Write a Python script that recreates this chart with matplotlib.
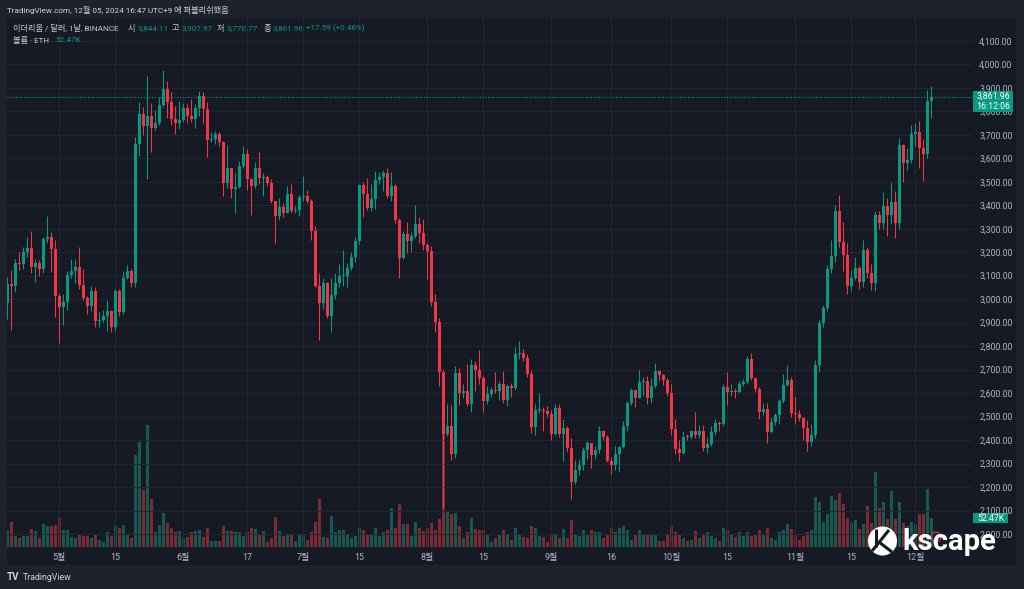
import matplotlib
matplotlib.use('Agg')
import matplotlib.pyplot as plt
from matplotlib.patches import Rectangle, Circle
from matplotlib.lines import Line2D
from matplotlib.ticker import FuncFormatter
from matplotlib.transforms import blended_transform_factory
import pandas as pd

plt.rcParams['font.family'] = ['Roboto', 'Noto Sans CJK KR', 'DejaVu Sans']

# ETH / USD daily, Binance, 2024-04-18 .. 2024-12-05
dates = pd.date_range('2024-04-18', '2024-12-05', freq='D')
first_open = 2985

closes = [
    3065, 3058, 3155, 3148, 3200, 3218, 3136, 3155, 3130, 3255,
    3263, 3212, 3012, 2968, 2988, 3102, 3118, 3136, 3062, 3005,
    2973, 3035, 2909, 2912, 2929, 2950, 2880, 3036, 2945, 3092,
    3122, 3070, 3662, 3788, 3738, 3780, 3728, 3750, 3826, 3893,
    3840, 3765, 3748, 3762, 3815, 3780, 3765, 3812, 3865, 3810,
    3678, 3682, 3705, 3668, 3495, 3558, 3468, 3478, 3567, 3620,
    3510, 3482, 3560, 3517, 3521, 3495, 3418, 3352, 3393, 3367,
    3447, 3375, 3378, 3436, 3440, 3420, 3290, 3058, 2982, 3068,
    2930, 3018, 3068, 3100, 3100, 3134, 3178, 3248, 3486, 3446,
    3387, 3425, 3507, 3518, 3537, 3440, 3482, 3337, 3175, 3277,
    3248, 3270, 3320, 3280, 3232, 3203, 2988, 2902, 2690, 2425,
    2462, 2340, 2685, 2600, 2610, 2555, 2720, 2700, 2663, 2567,
    2595, 2614, 2610, 2638, 2572, 2630, 2622, 2765, 2770, 2748,
    2680, 2455, 2528, 2528, 2525, 2513, 2425, 2536, 2425, 2450,
    2365, 2224, 2273, 2295, 2358, 2387, 2337, 2360, 2439, 2415,
    2313, 2295, 2340, 2372, 2460, 2557, 2614, 2581, 2649, 2653,
    2580, 2632, 2695, 2677, 2656, 2600, 2446, 2361, 2347, 2415,
    2412, 2439, 2420, 2440, 2365, 2382, 2436, 2475, 2470, 2628,
    2607, 2610, 2603, 2638, 2649, 2744, 2663, 2616, 2521, 2531,
    2436, 2479, 2507, 2567, 2635, 2656, 2514, 2512, 2493, 2453,
    2394, 2422, 2720, 2897, 2964, 3127, 3184, 3375, 3245, 3188,
    3056, 3089, 3131, 3075, 3209, 3110, 3068, 3358, 3326, 3397,
    3358, 3415, 3326, 3656, 3578, 3592, 3703, 3710, 3642, 3618,
    3844.11, 3861.96,
]

highs = [
    3095, 3125, 3172, 3200, 3222, 3265, 3290, 3170, 3165, 3265,
    3355, 3285, 3250, 3025, 3020, 3120, 3170, 3170, 3220, 3130,
    3015, 3055, 3052, 2945, 2955, 2995, 2955, 3045, 3045, 3120,
    3145, 3130, 3690, 3840, 3820, 3950, 3835, 3805, 3860, 3975,
    3930, 3880, 3822, 3845, 3835, 3830, 3850, 3830, 3888, 3880,
    3840, 3710, 3715, 3710, 3675, 3655, 3560, 3535, 3590, 3650,
    3640, 3515, 3585, 3625, 3535, 3530, 3510, 3420, 3430, 3410,
    3480, 3490, 3395, 3445, 3525, 3465, 3425, 3310, 3110, 3090,
    3075, 3090, 3110, 3150, 3210, 3155, 3200, 3265, 3490, 3500,
    3515, 3490, 3545, 3540, 3550, 3560, 3540, 3490, 3345, 3290,
    3330, 3285, 3400, 3350, 3340, 3240, 3225, 3020, 2920, 2700,
    2555, 2550, 2715, 2705, 2640, 2722, 2745, 2735, 2785, 2675,
    2630, 2625, 2690, 2650, 2695, 2640, 2645, 2795, 2820, 2790,
    2765, 2700, 2555, 2600, 2540, 2545, 2530, 2555, 2555, 2490,
    2460, 2410, 2315, 2320, 2370, 2395, 2390, 2375, 2460, 2445,
    2420, 2330, 2375, 2375, 2480, 2565, 2620, 2615, 2700, 2670,
    2672, 2665, 2728, 2700, 2680, 2665, 2640, 2490, 2400, 2440,
    2425, 2445, 2520, 2465, 2465, 2415, 2460, 2490, 2480, 2640,
    2690, 2640, 2620, 2650, 2660, 2760, 2770, 2665, 2625, 2560,
    2560, 2495, 2515, 2575, 2680, 2720, 2670, 2590, 2530, 2495,
    2485, 2470, 2740, 2910, 2975, 3145, 3250, 3400, 3445, 3330,
    3240, 3125, 3180, 3140, 3250, 3220, 3150, 3375, 3375, 3455,
    3430, 3500, 3460, 3685, 3660, 3645, 3740, 3750, 3760, 3680,
    3890, 3907.97,
]

lows = [
    2915, 2868, 3030, 3125, 3130, 3180, 3110, 3075, 3100, 3110,
    3240, 3115, 2925, 2815, 2890, 2955, 3090, 3070, 3045, 2995,
    2935, 2950, 2880, 2880, 2902, 2865, 2860, 2865, 2930, 2935,
    3085, 3050, 3050, 3610, 3700, 3510, 3625, 3720, 3740, 3820,
    3770, 3740, 3705, 3725, 3752, 3750, 3755, 3730, 3780, 3750,
    3605, 3670, 3660, 3650, 3440, 3475, 3430, 3365, 3475, 3560,
    3465, 3360, 3475, 3490, 3440, 3480, 3410, 3240, 3335, 3350,
    3365, 3365, 3365, 3355, 3420, 3410, 3250, 3050, 2826, 2960,
    2918, 2860, 3000, 3050, 3055, 3050, 3125, 3160, 3235, 3350,
    3380, 3375, 3385, 3490, 3460, 3430, 3420, 3325, 3090, 3170,
    3195, 3200, 3260, 3240, 3210, 3085, 2970, 2860, 2630, 2112,
    2418, 2315, 2325, 2550, 2580, 2545, 2520, 2610, 2640, 2520,
    2555, 2585, 2600, 2570, 2560, 2545, 2585, 2615, 2745, 2735,
    2670, 2430, 2420, 2515, 2440, 2500, 2400, 2420, 2415, 2310,
    2350, 2150, 2215, 2250, 2275, 2320, 2280, 2320, 2345, 2400,
    2305, 2255, 2275, 2265, 2365, 2440, 2550, 2540, 2580, 2590,
    2555, 2560, 2620, 2650, 2635, 2590, 2420, 2340, 2310, 2340,
    2400, 2405, 2410, 2410, 2355, 2345, 2375, 2420, 2440, 2460,
    2550, 2590, 2580, 2600, 2630, 2640, 2655, 2605, 2490, 2505,
    2390, 2430, 2465, 2470, 2560, 2630, 2500, 2470, 2480, 2400,
    2355, 2375, 2410, 2690, 2880, 2950, 3110, 3160, 3220, 3120,
    3020, 3035, 3080, 3045, 3050, 3090, 3040, 3035, 3300, 3300,
    3270, 3320, 3260, 3300, 3500, 3550, 3580, 3650, 3560, 3505,
    3600, 3770.77,
]

# volume, thousand ETH
volumes = [
    31, 46, 20, 16, 20, 20, 33, 29, 16, 42,
    38, 38, 40, 53, 31, 31, 18, 16, 22, 20,
    20, 16, 24, 13, 9, 27, 20, 37, 35, 40,
    22, 16, 167, 192, 104, 223, 88, 26, 40, 62,
    44, 35, 27, 29, 15, 18, 26, 29, 31, 18,
    35, 11, 11, 11, 38, 29, 29, 27, 26, 20,
    27, 35, 33, 22, 29, 9, 16, 55, 29, 20,
    22, 24, 11, 22, 22, 13, 26, 46, 88, 18,
    16, 57, 26, 31, 31, 22, 15, 20, 35, 31,
    22, 22, 35, 20, 26, 31, 71, 35, 79, 42,
    42, 20, 46, 35, 29, 35, 44, 31, 51, 256,
    64, 60, 62, 38, 15, 26, 53, 33, 31, 31,
    24, 9, 16, 24, 31, 22, 13, 35, 24, 18,
    15, 38, 35, 20, 18, 9, 22, 22, 15, 33,
    16, 48, 22, 20, 31, 24, 31, 27, 26, 15,
    22, 35, 26, 35, 38, 31, 13, 24, 31, 24,
    22, 22, 22, 11, 11, 22, 38, 26, 24, 16,
    11, 13, 29, 16, 22, 26, 20, 15, 11, 35,
    31, 22, 18, 26, 20, 26, 20, 22, 31, 24,
    35, 16, 13, 26, 31, 42, 33, 24, 13, 20,
    26, 31, 90, 82, 46, 60, 92, 86, 99, 79,
    53, 44, 49, 33, 42, 75, 44, 137, 70, 82,
    51, 101, 51, 81, 44, 37, 46, 42, 60, 60,
    106, 52.47,
]

tick_dates = ['2024-05-01', '2024-05-15', '2024-06-01', '2024-06-17', '2024-07-01',
              '2024-07-15', '2024-08-01', '2024-08-15', '2024-09-01', '2024-09-16',
              '2024-10-01', '2024-10-15', '2024-11-01', '2024-11-15', '2024-12-01']
tick_labels = ['5월', '15', '6월', '17', '7월', '15', '8월', '15', '9월', '16',
               '10월', '15', '11월', '15', '12월']
price_ticks = list(range(2000, 4101, 100))

UP = '#089981'
DOWN = '#f23645'
UP_VOL = '#17584f'
DOWN_VOL = '#7c2b34'
BG = '#161a25'
OUTER = '#1e222d'
GRID = '#222632'
TXT = '#b2b5be'
LEG = '#c8cbd3'

W, H = 1024, 589


def fx(x):
    return x / W


def fy(y):
    return 1 - y / H


opens = [first_open] + closes[:-1]
xs = list(range(len(dates)))
rising = [c >= o for o, c in zip(opens, closes)]
colors = [UP if r else DOWN for r in rising]
vcolors = [UP_VOL if r else DOWN_VOL for r in rising]
bottoms = [min(o, c) for o, c in zip(opens, closes)]
bodies = [max(abs(c - o), 4) for o, c in zip(opens, closes)]

fig = plt.figure(figsize=(W / 100, H / 100), dpi=100, facecolor=OUTER)
fig.add_artist(Rectangle((fx(7), fy(565)), fx(1016) - fx(7), fy(17) - fy(565),
                         transform=fig.transFigure, facecolor=BG, edgecolor='none', zorder=0))

rect = [fx(7), fy(548), fx(973) - fx(7), fy(17) - fy(548)]
axv = fig.add_axes(rect, label='volume')
ax = fig.add_axes(rect, label='price', sharex=axv)

# volume overlay
axv.bar(xs, volumes, width=0.75, color=vcolors, zorder=2)
axv.set_ylim(-2.4, 969)
axv.set_axis_off()

# candles
ax.vlines(xs, lows, highs, colors=colors, linewidth=0.75, zorder=3)
ax.bar(xs, bodies, bottom=bottoms, width=0.72, color=colors, zorder=4)
ax.set_xlim(-0.075, 241.4)
ax.set_ylim(1941, 4201)
ax.patch.set_visible(False)
for s in ax.spines.values():
    s.set_visible(False)

tick_pos = [dates.get_loc(pd.Timestamp(d)) for d in tick_dates]
ax.set_xticks(tick_pos, tick_labels)
ax.set_yticks(price_ticks)
ax.yaxis.tick_right()
ax.yaxis.set_major_formatter(FuncFormatter(lambda v, p: f'{v:,.2f}'))
ax.grid(True, color=GRID, linewidth=0.8, zorder=0)
ax.set_axisbelow(True)
ax.tick_params(axis='y', length=0, pad=4.5, labelsize=6.3, labelcolor=TXT)
ax.tick_params(axis='x', length=0, pad=3.5, labelsize=6.5, labelcolor=TXT)

# last price line and tags
last = closes[-1]
ax.axhline(last, color=UP, linewidth=0.8, linestyle=(0, (1, 1.5)), zorder=2)
tr = blended_transform_factory(ax.transAxes, ax.transData)
ax.add_patch(Rectangle((1.0, 3798), 40 / 966, 88, transform=tr, clip_on=False,
                       facecolor=UP, edgecolor='none', zorder=6))
ax.text(1.0 + 20 / 966, 3862, f'{last:,.2f}', transform=tr, ha='center', va='center',
        color='white', fontsize=6.3, zorder=7, clip_on=False)
ax.text(1.0 + 20 / 966, 3821, '16:12:06', transform=tr, ha='center', va='center',
        color='white', fontsize=6.3, zorder=7, clip_on=False)

trv = blended_transform_factory(axv.transAxes, axv.transData)
axv.add_patch(Rectangle((1.0, volumes[-1] - 8.3), 35 / 966, 16.6, transform=trv,
                        clip_on=False, facecolor=UP, edgecolor='none', zorder=6))
axv.text(1.0 + 17.5 / 966, volumes[-1], f'{volumes[-1]:.2f}K', transform=trv,
         ha='center', va='center', color='white', fontsize=6.3, zorder=7, clip_on=False)

# header and legend
fig.text(fx(7), fy(10), 'TradingView.com, 12월 05, 2024 16:47 UTC+9 에 퍼블리쉬했음',
         color='#d1d4dc', fontsize=5.9, va='center')

renderer = fig.canvas.get_renderer()


def text_row(y, parts):
    # parts: (x wanted in px, text, colour); never start before the previous text ends
    end = 0
    for x, s, c in parts:
        x = max(x, end + 2)
        t = fig.text(fx(x), fy(y), s, color=c, fontsize=5.9, va='center')
        end = t.get_window_extent(renderer).x1


text_row(27.7, [(12.7, '이더리움 / 달러, 1날, BINANCE', LEG),
                (127.7, '시', LEG), (132.7, f'{opens[-1]:,.2f}', UP),
                (171.7, '고', LEG), (180, f'{highs[-1]:,.2f}', UP),
                (216.7, '저', LEG), (224, f'{lows[-1]:,.2f}', UP),
                (263.3, '종', LEG), (269, f'{closes[-1]:,.2f}', UP),
                (304, '+17.59 (+0.46%)', UP)])
text_row(39.5, [(12.7, '볼륨 · ETH', LEG), (55, f'{volumes[-1]:.2f}K', UP)])

# footer logo
fig.text(fx(7), fy(577), 'TV', color='#d1d4dc', fontsize=7, fontweight='bold', va='center')
fig.text(fx(23), fy(577), 'TradingView', color='#d1d4dc', fontsize=6.3, va='center')

# kscape watermark
ins = fig.dpi_scale_trans
fig.add_artist(Circle((936 / 100, (H - 537) / 100), 0.05, transform=ins, facecolor='none',
                      edgecolor='#c0304a', linewidth=1, zorder=8))
fig.add_artist(Circle((882.5 / 100, (H - 541) / 100), 0.145, transform=ins,
                      facecolor='white', edgecolor='none', zorder=9))
for (x0, y0), (x1, y1) in [((872, 551), (889, 530)), ((879, 542), (892, 552)),
                           ((876, 529), (876, 547))]:
    fig.add_artist(Line2D([x0 / 100, x1 / 100], [(H - y0) / 100, (H - y1) / 100],
                          transform=ins, color=BG, linewidth=2.2, zorder=10,
                          solid_capstyle='butt'))
fig.text(fx(902), fy(550), 'kscape', color='white', fontsize=21, fontweight='bold',
         family='Roboto', va='baseline', zorder=11)

fig.savefig('out.png', dpi=100, facecolor=OUTER)
